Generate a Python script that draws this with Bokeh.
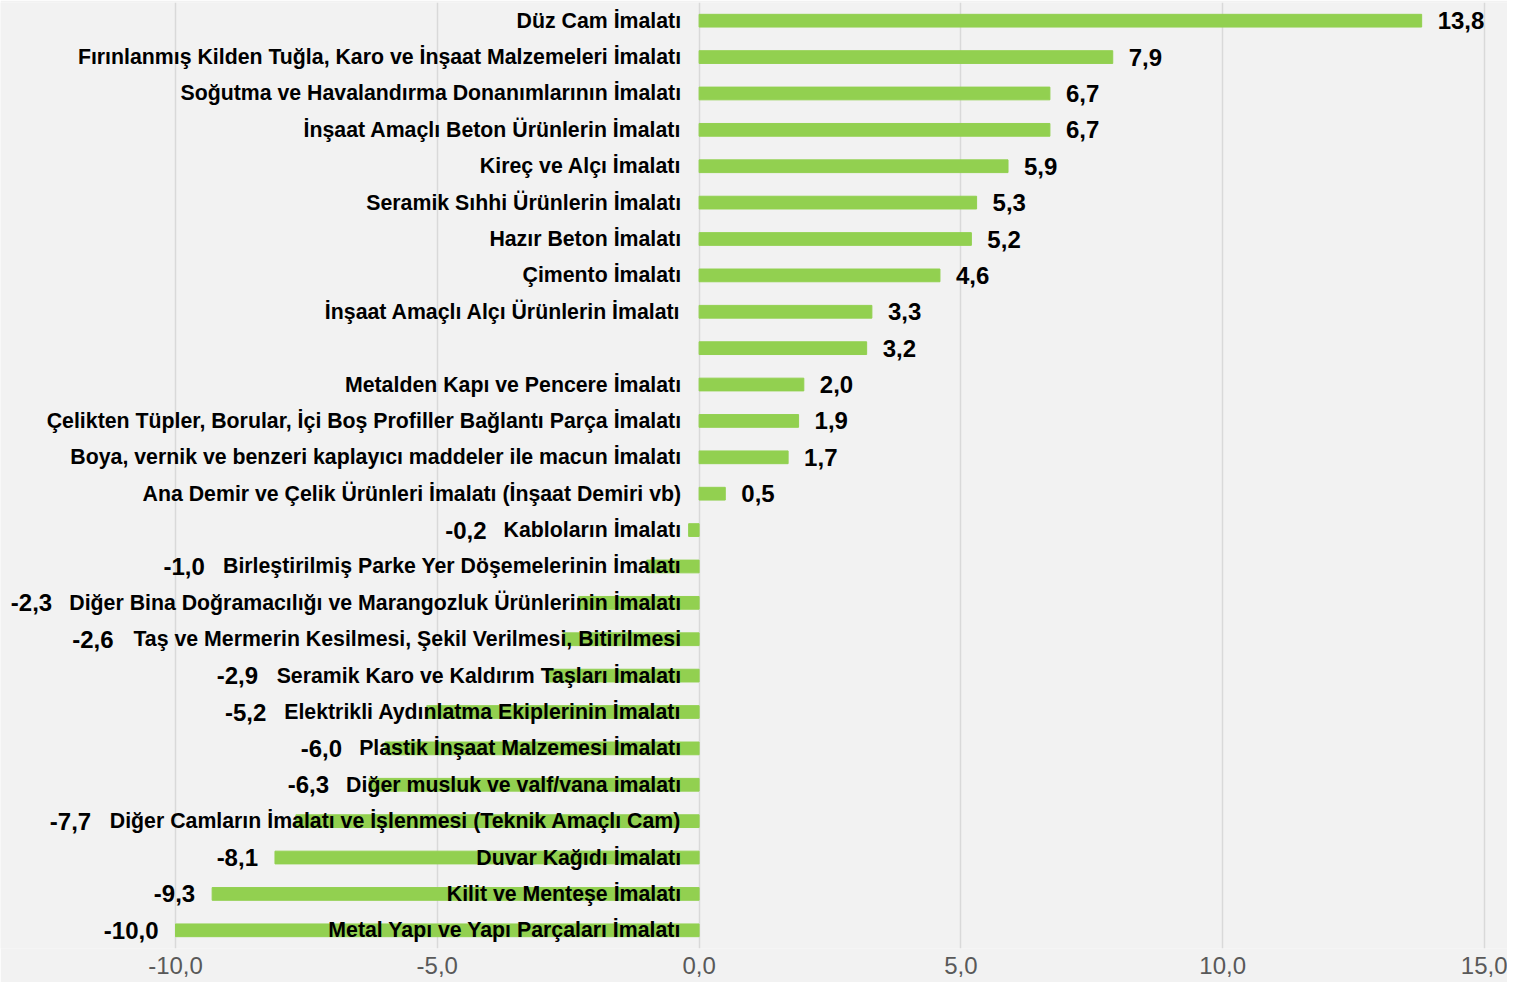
from bokeh.plotting import figure
from bokeh.models import ColumnDataSource, FixedTicker, Range1d
from bokeh.core.properties import value
from bokeh.embed import file_html
from bokeh.resources import INLINE

names = [
    "Düz Cam İmalatı",
    "Fırınlanmış Kilden Tuğla, Karo ve İnşaat Malzemeleri İmalatı",
    "Soğutma ve Havalandırma Donanımlarının İmalatı",
    "İnşaat Amaçlı Beton Ürünlerin İmalatı",
    "Kireç ve Alçı İmalatı",
    "Seramik Sıhhi Ürünlerin İmalatı",
    "Hazır Beton İmalatı",
    "Çimento İmalatı",
    "İnşaat Amaçlı Alçı Ürünlerin İmalatı",
    "",
    "Metalden Kapı ve Pencere İmalatı",
    "Çelikten Tüpler, Borular, İçi Boş Profiller Bağlantı Parça İmalatı",
    "Boya, vernik ve benzeri kaplayıcı maddeler ile macun İmalatı",
    "Ana Demir ve Çelik Ürünleri İmalatı (İnşaat Demiri vb)",
    "Kabloların İmalatı",
    "Birleştirilmiş Parke Yer Döşemelerinin İmalatı",
    "Diğer Bina Doğramacılığı ve Marangozluk Ürünlerinin İmalatı",
    "Taş ve Mermerin Kesilmesi, Şekil Verilmesi, Bitirilmesi",
    "Seramik Karo ve Kaldırım Taşları İmalatı",
    "Elektrikli Aydınlatma Ekiplerinin İmalatı",
    "Plastik İnşaat Malzemesi İmalatı",
    "Diğer musluk ve valf/vana imalatı",
    "Diğer Camların İmalatı ve İşlenmesi (Teknik Amaçlı Cam)",
    "Duvar Kağıdı İmalatı",
    "Kilit ve Menteşe İmalatı",
    "Metal Yapı ve Yapı Parçaları İmalatı",
]
values = [13.8, 7.9, 6.7, 6.7, 5.9, 5.3, 5.2, 4.6, 3.3, 3.2, 2.0, 1.9, 1.7, 0.5,
          -0.2, -1.0, -2.3, -2.6, -2.9, -5.2, -6.0, -6.3, -7.7, -8.1, -9.3, -10.0]
tick_values = [-10, -5, 0, 5, 10, 15]
tick_labels = ["-10,0", "-5,0", "0,0", "5,0", "10,0", "15,0"]

FONT = "Liberation Sans"
CAT_SIZE = 21.3
VAL_SIZE = 24
FIG_W = 1507
AX_LEFT_PX = 175      # pixel where -10 sits
AX_RIGHT_PX = 1484    # pixel where 15 sits
X0, X1 = tick_values[0], tick_values[-1]
PX_PER_UNIT = (AX_RIGHT_PX - AX_LEFT_PX) / (X1 - X0)
XR0 = X0 - AX_LEFT_PX / PX_PER_UNIT
XR1 = X1 + (FIG_W - AX_RIGHT_PX) / PX_PER_UNIT

# Arial/Liberation Sans Bold advance widths (1/1000 em)
W = {" ": 278, "(": 333, ")": 333, ",": 278, "-": 333, ".": 278, "/": 278,
     "A": 722, "B": 722, "C": 722, "D": 722, "E": 667, "F": 611, "G": 778, "H": 722,
     "I": 278, "J": 556, "K": 722, "L": 611, "M": 833, "N": 722, "O": 778, "P": 667,
     "R": 722, "S": 667, "T": 611, "U": 722, "V": 667, "W": 944, "Y": 667, "Z": 611,
     "a": 556, "b": 611, "c": 556, "d": 611, "e": 556, "f": 333, "g": 611, "h": 611,
     "i": 278, "j": 278, "k": 556, "l": 278, "m": 889, "n": 611, "o": 611, "p": 611,
     "q": 611, "r": 389, "s": 556, "t": 333, "u": 611, "v": 556, "w": 778, "x": 556,
     "y": 556, "z": 500, "Ç": 722, "İ": 278, "Ş": 667, "Ü": 722, "Ö": 778, "Ğ": 778,
     "ç": 556, "ğ": 611, "ı": 278, "ş": 556, "ö": 611, "ü": 611}


def text_w(s, size):
    return sum(W.get(c, 556) for c in s) * size / 1000.0


n = len(names)
ys = [n - 1 - i for i in range(n)]
fmt = [f"{v:.1f}".replace(".", ",") for v in values]

CAT_OFF = -18
GAP = 17

pos_x, pos_y, pos_t = [], [], []
neg_x, neg_y, neg_t, neg_off = [], [], [], []
for nm, v, y, t in zip(names, values, ys, fmt):
    if v >= 0:
        pos_x.append(v); pos_y.append(y); pos_t.append(t)
    else:
        text_left = CAT_OFF - text_w(nm, CAT_SIZE)
        bar_left = v * PX_PER_UNIT
        neg_x.append(0); neg_y.append(y); neg_t.append(t)
        neg_off.append(min(text_left, bar_left) - GAP)

src = ColumnDataSource(dict(y=ys, v=values, name=names))

p = figure(frame_width=FIG_W, frame_height=946,
           x_range=Range1d(XR0, XR1), y_range=Range1d(-0.5, n - 0.5),
           output_backend="svg", toolbar_location=None,
           min_border_left=0, min_border_right=0, min_border_top=2, min_border_bottom=34,
           background_fill_color="#f2f2f2", border_fill_color="#f2f2f2",
           outline_line_color=None)

p.hbar(y="y", left=0, right="v", height=0.35, color="#92d050", source=src)

p.text(x=0, y="y", text="name", source=src, x_offset=CAT_OFF,
       text_align="right", text_baseline="middle",
       text_font=value(FONT), text_font_style="bold",
       text_font_size=f"{CAT_SIZE}px", text_color="#000000")

p.text(x=pos_x, y=pos_y, text=pos_t, x_offset=16,
       text_align="left", text_baseline="middle",
       text_font=value(FONT), text_font_style="bold",
       text_font_size=f"{VAL_SIZE}px", text_color="#000000")

p.text(x=neg_x, y=neg_y, text=neg_t, x_offset=neg_off,
       text_align="right", text_baseline="middle",
       text_font=value(FONT), text_font_style="bold",
       text_font_size=f"{VAL_SIZE}px", text_color="#000000")

p.xaxis.ticker = FixedTicker(ticks=tick_values)
p.xgrid.ticker = FixedTicker(ticks=tick_values)
p.xaxis.major_label_overrides = {t: l for t, l in zip(tick_values, tick_labels)}
p.xaxis.axis_line_color = None
p.xaxis.major_tick_line_color = None
p.xaxis.minor_tick_line_color = None
p.xaxis.major_tick_out = 0
p.xaxis.major_tick_in = 0
p.xaxis.major_label_standoff = 8
p.xaxis.major_label_text_font = FONT
p.xaxis.major_label_text_font_size = "24px"
p.xaxis.major_label_text_color = "#595959"
p.xgrid.grid_line_color = "#d9d9d9"
p.xgrid.grid_line_width = 1.5
p.ygrid.grid_line_color = None
p.yaxis.visible = False

open("out.html", "w").write(file_html(p, INLINE))
